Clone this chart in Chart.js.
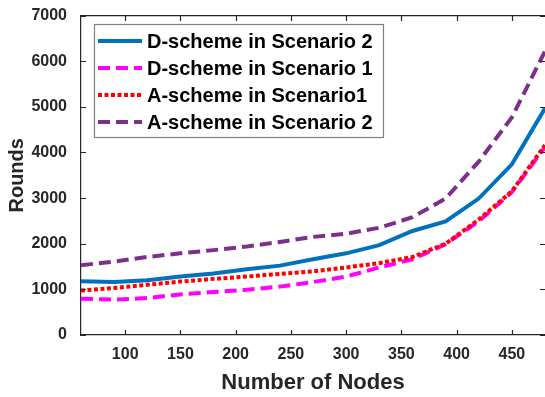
<!DOCTYPE html>
<html>
<head>
<meta charset="utf-8">
<script src="https://cdn.jsdelivr.net/npm/chart.js@4"></script>
<style>
  html, body { margin: 0; padding: 0; background: #fff; }
</style>
</head>
<body>
<canvas id="roundsChart" width="545" height="397"></canvas>
<script>
const nodes = [60, 90, 120, 150, 180, 210, 240, 270, 300, 330, 360, 390, 420, 450, 480];
const dScheme2 = [1180, 1160, 1200, 1280, 1350, 1440, 1520, 1660, 1790, 1970, 2280, 2490, 2990, 3740, 4970];
const dScheme1 = [795, 775, 810, 890, 940, 990, 1060, 1160, 1280, 1480, 1660, 1990, 2490, 3130, 4120];
const aScheme1 = [975, 1030, 1100, 1170, 1230, 1280, 1340, 1395, 1480, 1575, 1710, 2000, 2530, 3150, 4160];
const aScheme2 = [1530, 1610, 1710, 1790, 1860, 1940, 2040, 2150, 2220, 2350, 2580, 2990, 3800, 4770, 6220];
const xTicks = [100, 150, 200, 250, 300, 350, 400, 450];
const yTicks = [0, 1000, 2000, 3000, 4000, 5000, 6000, 7000];

const axisColor = '#262626';
const fontFamily = '"Liberation Sans", Arial, sans-serif';

function pts(ys) {
    return nodes.map((x, i) => ({ x: x, y: ys[i] }));
}

// inward ticks (matlab look) and the legend inside the plot
const framePlugin = {
    id: 'plotFrame',
    afterDatasetsDraw(chart) {
        const g = chart.ctx;
        const a = chart.chartArea;
        const sx = chart.scales.x, sy = chart.scales.y;
        const T = Math.round(a.top), B = Math.round(a.bottom);
        const L = Math.round(a.left), R = Math.round(a.right);
        g.save();
        g.strokeStyle = axisColor;
        g.lineWidth = 1.2;
        g.setLineDash([]);
        g.beginPath();
        xTicks.forEach(v => {
            const px = Math.round(sx.getPixelForValue(v)) + 0.5;
            g.moveTo(px, B); g.lineTo(px, B - 5);
            g.moveTo(px, T); g.lineTo(px, T + 5);
        });
        yTicks.forEach(v => {
            const py = Math.round(sy.getPixelForValue(v)) + 0.5;
            g.moveTo(L, py); g.lineTo(L + 5, py);
            g.moveTo(R, py); g.lineTo(R - 5, py);
        });
        g.stroke();
        g.restore();
    },
    afterDraw(chart) {
        const g = chart.ctx;
        const bx = 94.5, by = 24.5, bw = 289, bh = 113;
        g.save();
        g.setLineDash([]);
        g.fillStyle = '#fff';
        g.fillRect(bx, by, bw, bh);
        g.strokeStyle = '#7f7f7f';
        g.lineWidth = 1.2;
        g.strokeRect(bx, by, bw, bh);
        g.font = 'bold 20px ' + fontFamily;
        g.textBaseline = 'middle';
        chart.data.datasets.forEach((ds, i) => {
            const y = 41 + i * 27;
            g.beginPath();
            g.strokeStyle = ds.borderColor;
            g.lineWidth = ds.borderWidth;
            g.setLineDash(ds.borderDash || []);
            g.moveTo(98, y);
            g.lineTo(142, y);
            g.stroke();
            g.setLineDash([]);
            g.fillStyle = '#000';
            g.fillText(ds.label, 147, y + 1);
        });
        g.restore();
    }
};

new Chart(document.getElementById('roundsChart').getContext('2d'), {
    type: 'line',
    data: {
        datasets: [
            { label: 'D-scheme in Scenario 2', data: pts(dScheme2), borderColor: '#0072BD', borderWidth: 4, order: 0 },
            { label: 'D-scheme in Scenario 1', data: pts(dScheme1), borderColor: '#FF00FF', borderWidth: 4, borderDash: [12, 6], order: -1 },
            { label: 'A-scheme in Scenario1', data: pts(aScheme1), borderColor: '#FF0000', borderWidth: 4, borderDash: [4, 2.5], order: -2 },
            { label: 'A-scheme in Scenario 2', data: pts(aScheme2), borderColor: '#7E2F8E', borderWidth: 4, borderDash: [12, 6], order: -3 }
        ]
    },
    options: {
        responsive: false,
        animation: false,
        layout: { padding: { top: 12, right: 0, left: 0, bottom: 0 } },
        elements: {
            point: { radius: 0 },
            line: { tension: 0, fill: false, borderCapStyle: 'butt' }
        },
        plugins: {
            legend: { display: false },
            tooltip: { enabled: false }
        },
        scales: {
            x: {
                type: 'linear',
                min: 60,
                max: 480,
                afterBuildTicks: s => { s.ticks = xTicks.map(v => ({ value: v })); },
                afterFit: s => { s.height = 62; },
                grid: { display: false },
                border: { display: true, color: axisColor, width: 1.2 },
                ticks: {
                    padding: 2,
                    color: axisColor,
                    maxRotation: 0,
                    font: { family: fontFamily, size: 16, weight: 'bold' }
                },
                title: {
                    display: true,
                    text: 'Number of Nodes',
                    color: axisColor,
                    padding: { top: 0, bottom: 1 },
                    font: { family: fontFamily, size: 22, weight: 'bold' }
                }
            },
            xTop: {
                type: 'linear',
                position: 'top',
                min: 60,
                max: 480,
                afterFit: s => { s.height = 0; },
                grid: { display: false },
                border: { display: true, color: axisColor, width: 1.2 },
                ticks: { display: false }
            },
            y: {
                min: 0,
                max: 7000,
                afterBuildTicks: s => { s.ticks = yTicks.map(v => ({ value: v })); },
                afterFit: s => { s.width = 81; },
                grid: { display: false },
                border: { display: true, color: axisColor, width: 1.2 },
                ticks: {
                    padding: 6,
                    color: axisColor,
                    callback: v => String(v),
                    font: { family: fontFamily, size: 16, weight: 'bold' }
                },
                title: {
                    display: true,
                    text: 'Rounds',
                    color: axisColor,
                    padding: { top: 5, bottom: 0 },
                    font: { family: fontFamily, size: 20, weight: 'bold' }
                }
            }
        }
    },
    plugins: [framePlugin]
});
</script>
</body>
</html>
